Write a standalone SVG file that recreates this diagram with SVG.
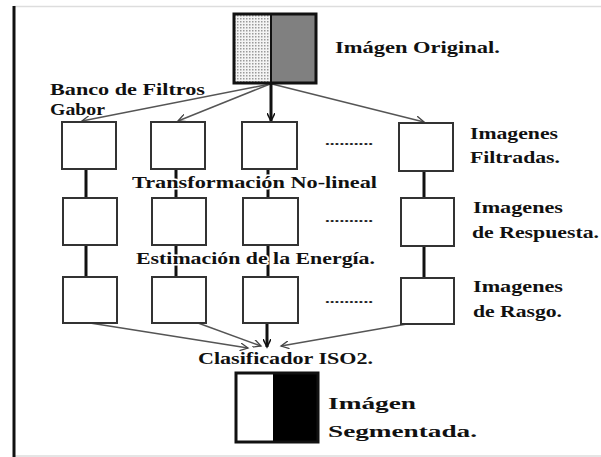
<svg xmlns="http://www.w3.org/2000/svg" width="601" height="457" viewBox="0 0 601 457">
<style>
.t{font-family:"Liberation Serif","Times New Roman",serif;font-weight:bold;fill:#111;font-size:17px}
.h{stroke:#fff;stroke-width:3;paint-order:stroke;stroke-linejoin:round}
.box{fill:#fff;stroke:#333;stroke-width:2}
.fan{stroke:#555;stroke-width:1.5;fill:none;marker-end:url(#av)}
.vk{stroke:#111;stroke-width:3;fill:none}
.dots{font-family:"Liberation Serif",serif;font-weight:bold;font-size:12px;fill:#222}
</style>
<defs>
<pattern id="dp" width="3" height="3" patternUnits="userSpaceOnUse">
<rect width="3" height="3" fill="#f4f4f4"/><rect width="1.5" height="1.5" fill="#9a9a9a"/>
</pattern>
<marker id="av" markerWidth="10" markerHeight="8" refX="8" refY="4" orient="auto" markerUnits="userSpaceOnUse">
<path d="M0,0 L8,4 L0,8" fill="none" stroke="#444" stroke-width="1.3"/>
</marker>
<marker id="ak" markerWidth="10" markerHeight="8" refX="8" refY="4" orient="auto" markerUnits="userSpaceOnUse">
<path d="M0,0 L8,4 L0,8" fill="none" stroke="#111" stroke-width="1.5"/>
</marker>
</defs>
<rect width="601" height="457" fill="#fff"/>
<g id="frame">
<line x1="14" y1="6.5" x2="601" y2="6.5" stroke="#ddd" stroke-width="1.5"/>
<line x1="14" y1="456" x2="601" y2="456" stroke="#ddd" stroke-width="1.5"/>
<line x1="14" y1="6" x2="14" y2="457" stroke="#111" stroke-width="3"/>
</g>
<g id="connectors">
<line class="fan" x1="270" y1="84" x2="82" y2="121"/>
<line class="fan" x1="270" y1="84" x2="178" y2="121"/>
<line class="fan" x1="272" y1="84" x2="424" y2="122"/>
<line class="vk" x1="271" y1="84" x2="271" y2="121" marker-end="url(#ak)"/>
<line class="vk" x1="86" y1="169" x2="86" y2="198"/>
<line class="vk" x1="176" y1="169" x2="176" y2="198" stroke-width="2.5"/>
<line class="vk" x1="268" y1="169" x2="268" y2="198" stroke-width="2.5"/>
<line class="vk" x1="424" y1="171" x2="424" y2="198"/>
<line class="vk" x1="86" y1="245" x2="86" y2="277"/>
<line class="vk" x1="176" y1="245" x2="176" y2="277" stroke-width="2.5"/>
<line class="vk" x1="268" y1="245" x2="268" y2="277" stroke-width="2.5"/>
<line class="vk" x1="424" y1="246" x2="424" y2="278"/>
<line class="fan" x1="90" y1="323" x2="248" y2="348"/>
<line class="fan" x1="198" y1="323" x2="261" y2="346"/>
<line class="fan" x1="407" y1="324" x2="281" y2="346"/>
<line class="vk" x1="267" y1="324" x2="267" y2="347" stroke-width="2.5" marker-end="url(#ak)"/>
</g>
<g id="original">
<rect x="234" y="14" width="37" height="69" fill="url(#dp)"/>
<rect x="271" y="14" width="45" height="69" fill="#808080"/>
<rect x="234" y="14" width="82" height="69" fill="none" stroke="#111" stroke-width="3"/>
<line x1="271" y1="14" x2="271" y2="83" stroke="#111" stroke-width="2"/>
<text class="t" x="335" y="53" font-size="19" textLength="165" lengthAdjust="spacingAndGlyphs">Imágen Original.</text>
</g>
<g id="banco">
<text class="t" x="50" y="95" font-size="15" textLength="155" lengthAdjust="spacingAndGlyphs">Banco de Filtros</text>
<text class="t" x="50" y="115" font-size="15" textLength="55" lengthAdjust="spacingAndGlyphs">Gabor</text>
</g>
<g id="row1">
<rect class="box" x="62" y="122" width="54" height="47"/>
<rect class="box" x="151" y="122" width="54" height="47"/>
<rect class="box" x="242" y="122" width="55" height="47"/>
<rect class="box" x="399" y="123" width="54" height="48"/>
<text class="dots" x="325" y="145" textLength="48" lengthAdjust="spacingAndGlyphs">..........</text>
<text class="t" x="470" y="139" textLength="88" lengthAdjust="spacingAndGlyphs">Imagenes</text>
<text class="t" x="470" y="163" textLength="90" lengthAdjust="spacingAndGlyphs">Filtradas.</text>
</g>
<g id="transformacion">
<text class="t h" x="132" y="188" textLength="245" lengthAdjust="spacingAndGlyphs">Transformación No-lineal</text>
</g>
<g id="row2">
<rect class="box" x="63" y="198" width="54" height="47"/>
<rect class="box" x="152" y="198" width="54" height="47"/>
<rect class="box" x="243" y="198" width="55" height="47"/>
<rect class="box" x="401" y="198" width="53" height="48"/>
<text class="dots" x="325" y="222" textLength="48" lengthAdjust="spacingAndGlyphs">..........</text>
<text class="t" x="473" y="213" textLength="90" lengthAdjust="spacingAndGlyphs">Imagenes</text>
<text class="t" x="472" y="238" textLength="127" lengthAdjust="spacingAndGlyphs">de Respuesta.</text>
</g>
<g id="estimacion">
<text class="t h" x="136" y="264" textLength="239" lengthAdjust="spacingAndGlyphs">Estimación de la Energía.</text>
</g>
<g id="row3">
<rect class="box" x="63" y="277" width="54" height="46"/>
<rect class="box" x="152" y="277" width="54" height="46"/>
<rect class="box" x="243" y="277" width="55" height="46"/>
<rect class="box" x="401" y="278" width="53" height="46"/>
<text class="dots" x="325" y="303" textLength="48" lengthAdjust="spacingAndGlyphs">..........</text>
<text class="t" x="473" y="292" textLength="90" lengthAdjust="spacingAndGlyphs">Imagenes</text>
<text class="t" x="473" y="317" textLength="89" lengthAdjust="spacingAndGlyphs">de Rasgo.</text>
</g>
<g id="clasificador">
<text class="t" x="198" y="364" textLength="175" lengthAdjust="spacingAndGlyphs">Clasificador ISO2.</text>
</g>
<g id="segmentada">
<rect x="236" y="373" width="37" height="69" fill="#fff"/>
<rect x="273" y="373" width="45" height="69" fill="#000"/>
<rect x="236" y="373" width="82" height="69" fill="none" stroke="#111" stroke-width="3"/>
<text class="t" x="328" y="409" font-size="21" textLength="88" lengthAdjust="spacingAndGlyphs">Imágen</text>
<text class="t" x="328" y="437" font-size="21" textLength="149" lengthAdjust="spacingAndGlyphs">Segmentada.</text>
</g>
</svg>
